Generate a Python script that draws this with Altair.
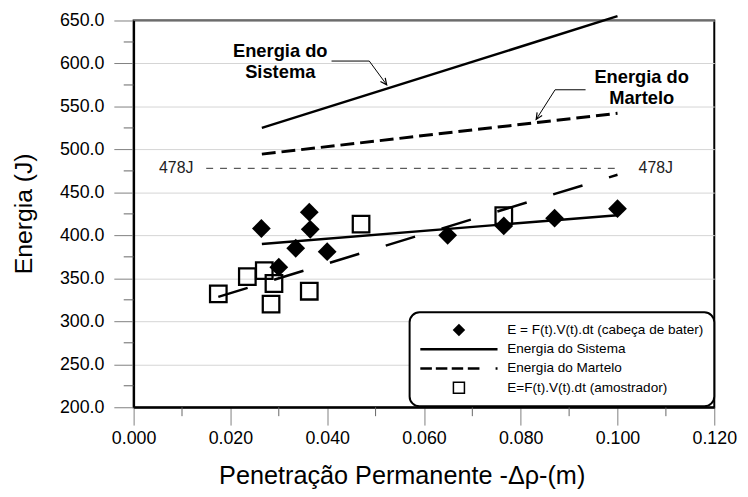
import altair as alt
import pandas as pd

FONT = "Liberation Sans"

# axis ticks
x_ticks = [0.0, 0.02, 0.04, 0.06, 0.08, 0.10, 0.12]
x_minor = [0.01, 0.03, 0.05, 0.07, 0.09, 0.11]
y_ticks = [200, 250, 300, 350, 400, 450, 500, 550, 600, 650]
y_minor = [225, 275, 325, 375, 425, 475, 525, 575, 625]

# measured points
diamond_x = [0.0264, 0.0300, 0.0335, 0.0363, 0.0365, 0.0400, 0.0649, 0.0765, 0.0870, 0.1000]
diamond_y = [408, 363, 385, 427, 407, 381, 400, 411, 420, 431]
square_x = [0.0175, 0.0235, 0.0270, 0.0284, 0.0290, 0.0363, 0.0470, 0.0765]
square_y = [332, 352, 359, 320, 344, 335, 413, 423]

# lines
sistema_x = [0.0265, 0.100]
sistema_y = [525, 655]
martelo_x = [0.0265, 0.100]
martelo_y = [494.5, 542]
fit_cabeca_x = [0.0265, 0.100]
fit_cabeca_y = [390, 423.5]
fit_amostrador_x = [0.0175, 0.100]
fit_amostrador_y = [328.5, 470.5]
ref_x = [0.015, 0.100]
ref_y = [478, 478]
ref_label = "478J"
ref_label_x = [0.0088, 0.1079]

# annotations
sist_text = ["Energia do", "Sistema"]
sist_text_x = [0.0303, 0.0303]
sist_text_y = [614.5, 589.5]
sist_leader_x = [0.0409, 0.0487, 0.0523]
sist_leader_y = [602.8, 602.8, 575.2]
mart_text = ["Energia do", "Martelo"]
mart_text_x = [0.1050, 0.1050]
mart_text_y = [584.5, 559.5]
mart_leader_x = [0.0934, 0.0871, 0.0832]
mart_leader_y = [569.4, 569.4, 534.9]

legend_names = [
    "E = F(t).V(t).dt (cabeça de bater)",
    "Energia do Sistema",
    "Energia do Martelo",
    "E=F(t).V(t).dt (amostrador)",
]


def bar(a, b, h=0.2):
    return f"M{a},{-h}H{b}V{h}H{a}Z"


LINE_PATH = bar(-6.17, 6.17)
DASH_PATH = "".join(bar(a, b) for a, b in
                    [(-6.17, -4.32), (-3.69, -1.85), (-1.15, 0.68), (1.42, 3.28), (5.86, 6.17)])
SQUARE_PATH = "M-1,-1H1V1H-1Z M-0.76,-0.76V0.76H0.76V-0.76Z"
ARROW_PATH = "M-0.6,-1.3L0,0L0.6,-1.3"

xscale = alt.Scale(domain=[0, 0.12], nice=False, zero=False)
yscale = alt.Scale(domain=[200, 650], nice=False, zero=False)

xaxis = alt.Axis(
    values=x_ticks, format=".3f", tickSize=18, tickColor="#808080", tickWidth=1,
    labelPadding=5, labelFontSize=18, labelFont=FONT, labelColor="black",
    labelFlush=False, labelOverlap=False,
    domainColor="black", domainWidth=2, grid=False,
    titleFontSize=25.5, titleFont=FONT, titleFontWeight="normal", titleColor="black",
    titleX=271, titleY=69, titleBaseline="middle", titleAlign="center",
)
yaxis = alt.Axis(
    values=y_ticks, format=".1f", tickSize=20, tickColor="#808080", tickWidth=1,
    labelPadding=10, labelFontSize=18, labelFont=FONT, labelColor="black",
    labelFlush=False, labelOverlap=False,
    domainColor="black", domainWidth=2,
    grid=True, gridColor="#d4d4d4", gridWidth=1,
    titleFontSize=25, titleFont=FONT, titleFontWeight="normal", titleColor="black",
    titleX=-111, titleY=195, titleAngle=270, titleBaseline="middle", titleAlign="center",
)

XT = "Penetração Permanente -Δρ-(m)"
YT = "Energia (J)"


def X(f="x"):
    return alt.X(f"{f}:Q", scale=xscale, axis=xaxis, title=XT)


def Y(f="y"):
    return alt.Y(f"{f}:Q", scale=yscale, axis=yaxis, title=YT)


def line_layer(xs, ys, **kw):
    return alt.Chart(pd.DataFrame({"x": xs, "y": ys})).mark_line(**kw).encode(x=X(), y=Y())


# points
pts = pd.DataFrame({
    "x": diamond_x + square_x,
    "y": diamond_y + square_y,
    "series": [legend_names[0]] * len(diamond_x) + [legend_names[3]] * len(square_x),
})

legend = alt.Legend(
    title=None, orient="none", legendX=279, legendY=295, direction="vertical",
    symbolSize=160, symbolStrokeWidth=0, symbolFillColor="black",
    symbolOffset=32, labelOffset=42, labelFont=FONT, labelFontSize=13.7, labelColor="black",
    labelLimit=400, rowPadding=4.5,
)

points = alt.Chart(pts).mark_point(
    filled=True, color="black", opacity=1, size=361
).encode(
    x=X(), y=Y(),
    shape=alt.Shape(
        "series:N",
        scale=alt.Scale(domain=legend_names, range=["diamond", LINE_PATH, DASH_PATH, SQUARE_PATH]),
        legend=legend,
    ),
)

sistema = line_layer(sistema_x, sistema_y, color="black", strokeWidth=2.5)
martelo = line_layer(martelo_x, martelo_y, color="black", strokeWidth=3, strokeDash=[14, 6])
fit_cab = line_layer(fit_cabeca_x, fit_cabeca_y, color="black", strokeWidth=2.5)
fit_amo = line_layer(fit_amostrador_x, fit_amostrador_y, color="black", strokeWidth=2.5, strokeDash=[31, 28])
ref = line_layer(ref_x, ref_y, color="#333333", strokeWidth=1, strokeDash=[7, 7])

ref_txt = alt.Chart(pd.DataFrame({"x": ref_label_x, "y": [ref_y[0]] * 2, "t": [ref_label] * 2})).mark_text(
    font=FONT, fontSize=16, color="#222222", align="center", baseline="middle"
).encode(x=X(), y=Y(), text="t:N")

sist_lead = line_layer(sist_leader_x, sist_leader_y, color="black", strokeWidth=1)
mart_lead = line_layer(mart_leader_x, mart_leader_y, color="black", strokeWidth=1)

sist_arrow = alt.Chart(pd.DataFrame({"x": sist_leader_x[-1:], "y": sist_leader_y[-1:]})).mark_point(
    shape=ARROW_PATH, filled=False, color="black", strokeWidth=1.2, size=100, opacity=1, angle=323
).encode(x=X(), y=Y())
mart_arrow = alt.Chart(pd.DataFrame({"x": mart_leader_x[-1:], "y": mart_leader_y[-1:]})).mark_point(
    shape=ARROW_PATH, filled=False, color="black", strokeWidth=1.2, size=100, opacity=1, angle=32
).encode(x=X(), y=Y())

sist_txt = alt.Chart(pd.DataFrame({"x": sist_text_x, "y": sist_text_y, "t": sist_text})).mark_text(
    font=FONT, fontSize=18.5, fontWeight="bold", color="black", align="center", baseline="middle"
).encode(x=X(), y=Y(), text="t:N")
mart_txt = alt.Chart(pd.DataFrame({"x": mart_text_x, "y": mart_text_y, "t": mart_text})).mark_text(
    font=FONT, fontSize=18.5, fontWeight="bold", color="black", align="center", baseline="middle"
).encode(x=X(), y=Y(), text="t:N")

ymin = alt.Chart(pd.DataFrame({"y": y_minor})).mark_rule(color="#666666", strokeWidth=1).encode(
    x=alt.value(-10), x2=alt.value(0), y=Y()
)
xmin = alt.Chart(pd.DataFrame({"x": x_minor})).mark_rule(color="#666666", strokeWidth=1).encode(
    x=X(), y=alt.value(391), y2=alt.value(400)
)

chart = alt.layer(
    ymin, xmin, ref, ref_txt, fit_amo, fit_cab, martelo, sistema,
    sist_lead, mart_lead, sist_arrow, mart_arrow, sist_txt, mart_txt, points,
).properties(
    width=587, height=391,
    autosize=alt.AutoSizeParams(type="none"),
    padding={"left": 127, "top": 10, "right": 26, "bottom": 80},
).configure_view(
    stroke="black", strokeWidth=2
).configure_legend(
    strokeColor="black", strokeWidth=2, cornerRadius=10, fillColor="white", padding=11
)

chart.save("out.html", embed_options={"renderer": "svg", "actions": False})
